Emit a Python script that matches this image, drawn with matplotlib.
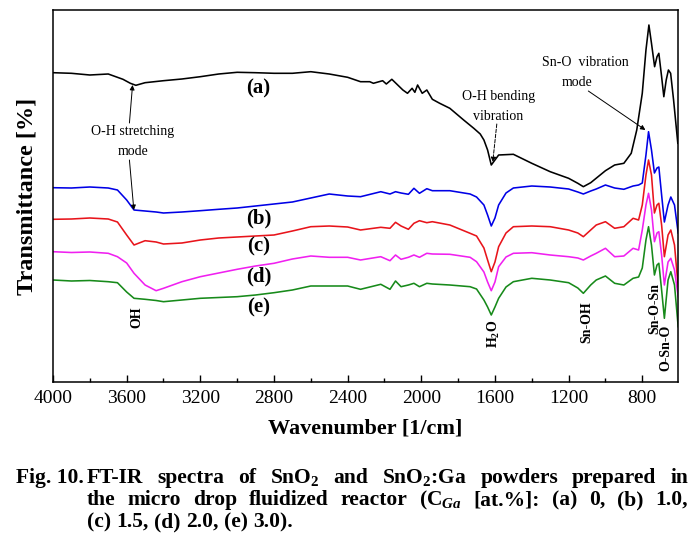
import matplotlib
matplotlib.use("Agg")
import matplotlib.pyplot as plt
from matplotlib.ticker import MultipleLocator

plt.rcParams['font.family'] = ['Liberation Serif', 'DejaVu Serif']
plt.rcParams['mathtext.fontset'] = 'custom'
plt.rcParams['mathtext.rm'] = 'Liberation Serif:bold'
plt.rcParams['mathtext.bf'] = 'Liberation Serif:bold'
plt.rcParams['mathtext.it'] = 'Liberation Serif:bold:italic'

# ---- data (arbitrary transmittance units, stacked spectra) ----
wn_a = [4000, 3900, 3800, 3700, 3620, 3580, 3550, 3500, 3400, 3300, 3200, 3100, 3000,
        2900, 2800, 2700, 2600, 2500, 2400, 2330, 2280, 2260, 2210, 2190, 2160, 2100,
        2075, 2050, 2035, 2020, 1995, 1970, 1940, 1900, 1845, 1770, 1715, 1680, 1660,
        1640, 1620, 1600, 1580, 1500, 1400, 1300, 1200, 1150, 1120, 1080, 1000, 950,
        900, 860, 830, 800, 780, 764, 750, 733, 720, 710, 695, 683, 670, 658, 646, 630, 607]
t_a = [327.3, 326.7, 325, 326, 320.7, 316.7, 314.7, 317.3, 319.3, 321, 323.3, 326, 327.7,
       327.3, 326.7, 326.7, 328.3, 326, 322.7, 318.3, 318.3, 316.7, 319.3, 316, 320.7, 310,
       306.7, 311.7, 307.7, 315, 306.7, 310, 300.7, 296.7, 291.7, 280, 271.7, 266, 260,
       250, 235, 240, 245, 245.7, 236.7, 228.3, 221.7, 216.7, 213.3, 217.3, 229.3, 235,
       236.7, 246.7, 270, 306.7, 350, 375, 356.7, 333.3, 343.3, 346.7, 323.3, 303.3, 320,
       330, 326.7, 300, 256.7]

wn = [4000, 3900, 3800, 3700, 3650, 3600, 3560, 3500, 3440, 3400, 3300, 3200, 3100, 3000,
      2900, 2800, 2700, 2600, 2500, 2400, 2330, 2220, 2170, 2140, 2110, 2070, 2040, 2010,
      1970, 1940, 1845, 1735, 1700, 1660, 1640, 1620, 1600, 1580, 1540, 1500, 1400, 1300,
      1200, 1150, 1120, 1080, 1050, 1000, 950, 900, 850, 820, 800, 780, 766, 750, 734,
      720, 710, 695, 680, 660, 645, 625, 605]
t_b = [212.3, 212, 213, 212, 210, 200, 190, 189, 188, 187, 188, 189.3, 190.7, 192, 194,
       196, 198, 202,
       206, 204, 203.3, 208.3, 206, 208.3, 207, 205.7, 211.7, 206.7, 211.3, 209.3, 209.3,
       206, 203,
       195, 185, 174, 182, 195, 207, 212, 214, 213, 211, 208, 206, 209, 211, 215, 212,
       210.7, 214, 215, 217, 245, 268.3, 250, 227, 232, 233, 205, 178, 195, 203, 195, 167]
t_c = [180.7, 181, 182, 181, 178, 165, 155, 159.3, 158, 156, 157, 160, 162, 163, 164, 165,
       169, 173.3,
       174, 173, 170, 172.7, 171.7, 177.7, 174, 170.7, 176.7, 179.3, 177.3, 178.3, 175,
       166.7, 164,
       152, 140, 128.3, 138, 153.3, 167, 173.3, 174, 173.3, 170, 167, 163.3, 170, 175,
       178.3, 171.7, 173.3, 181.7, 180, 195, 225, 240, 225, 187, 195, 196.7, 175, 143.3,
       165, 170, 155, 113.3]
t_d = [148.3, 147.5, 148, 146.7, 143.3, 137, 126.7, 115, 109.3, 111.7, 118.3, 123.3, 127,
       130.7, 134, 136.7, 141, 144,
       142.7, 142.7, 140, 143.3, 139.3, 145, 140.7, 142.7, 145, 142.7, 146.7, 146, 145.7,
       142.7, 138.3,
       128, 118, 109.3, 118, 133.3, 143, 146.7, 147.3, 145, 143.3, 142, 140, 144, 146.7,
       151.7, 143.3, 144, 151.7, 150, 170, 195, 206.7, 190, 158.3, 167, 168.3, 145, 115,
       138, 141.7, 130, 103.3]
t_e = [120, 119, 119.5, 118.3, 117.3, 108, 101.7, 100.7, 99.5, 98.3, 100, 101.7, 102.5,
       103.3, 105, 107.3, 110, 114,
       114, 114, 110.7, 115.7, 110.7, 119, 113.3, 115, 116.7, 113.3, 116.7, 116, 115,
       113.3, 111,
       100, 93, 85, 93, 101.7, 113, 118.3, 121.7, 120, 117.3, 112, 106.7, 115, 120, 124,
       116.7, 115, 121.7, 123, 132, 160, 173.3, 155, 125, 135, 136.7, 110, 81.7, 120,
       128.3, 115, 73.3]

labels = ['(a)', '(b)', '(c)', '(d)', '(e)']
colors = ['#000000', '#0000e6', '#e8141b', '#f020f0', '#178a1a']
x_ticks = [4000, 3600, 3200, 2800, 2400, 2000, 1600, 1200, 800]

W, H = 698, 547
fig = plt.figure(figsize=(W / 100, H / 100), dpi=100)
ax = fig.add_axes([53 / W, 1 - 382 / H, 625 / W, 372 / H])

series = [(wn_a, t_a), (wn, t_b), (wn, t_c), (wn, t_d), (wn, t_e)]
for (x, y), c in zip(series, colors):
    ax.plot(x, y, color=c, lw=1.15)

ax.set_xlim(4000, 606)
ax.set_ylim(18, 390)
ax.set_xticks(x_ticks)
ax.xaxis.set_minor_locator(MultipleLocator(200))
ax.set_yticks([])
ax.tick_params(axis='x', which='major', direction='in', length=5, width=1,
               labelsize=14, pad=6)
ax.tick_params(axis='x', which='minor', direction='in', length=3, width=1)
for s in ax.spines.values():
    s.set_linewidth(1.1)

ax.set_xlabel('Wavenumber [1/cm]', fontsize=16, fontweight='bold', labelpad=8)
ax.set_ylabel('Transmittance [%]', fontsize=17.5, fontweight='bold', labelpad=11)

# curve labels
lab_y = [312, 182, 154, 124, 93]
for lab, yy in zip(labels, lab_y):
    ax.text(2884, yy, lab, fontsize=15, fontweight='bold', ha='center', va='center')

# annotations
ax.text(3567, 258.5, 'O-H stretching\nmode', fontsize=10, ha='center', va='center',
        linespacing=1.7)
ax.annotate('', xy=(3568, 315), xytext=(3585, 277),
            arrowprops=dict(arrowstyle='-|>', color='black', lw=0.7,
                            mutation_scale=7, shrinkA=0, shrinkB=0))
ax.annotate('', xy=(3561, 190), xytext=(3585, 240),
            arrowprops=dict(arrowstyle='-|>', color='black', lw=0.7,
                            mutation_scale=7, shrinkA=0, shrinkB=0))

ax.text(1582, 293.5, 'O-H bending\nvibration', fontsize=10, ha='center', va='center',
        linespacing=1.7)
ax.annotate('', xy=(1612, 238), xytext=(1590, 276),
            arrowprops=dict(arrowstyle='-|>', color='black', lw=0.7, ls='--',
                            mutation_scale=7, shrinkA=0, shrinkB=0))

ax.text(1111, 338, 'Sn-O  vibration', fontsize=10, ha='center', va='center')
ax.text(1155, 317, 'mode', fontsize=10, ha='center', va='center')
ax.annotate('', xy=(783, 270), xytext=(1093, 309),
            arrowprops=dict(arrowstyle='-|>', color='black', lw=0.7,
                            mutation_scale=7, shrinkA=0, shrinkB=0))

rot = [('OH', 3544, 83), ('H$_2$O', 1607, 66), ('Sn-OH', 1103, 78),
       ('Sn-O-Sn', 733, 91), ('O-Sn-O', 673, 52)]
for t, xx, yy in rot:
    ax.text(xx, yy, t, rotation=90, fontsize=10, fontweight='bold',
            ha='center', va='center')

# caption (justified lines)
renderer = fig.canvas.get_renderer()
cap_fs = 15.5

def place_line(words, x0, x1, ybase, justify=True):
    texts = [fig.text(0, 1 - ybase / H, w, fontsize=cap_fs, fontweight='bold',
                      ha='left', va='baseline') for w in words]
    widths = [t.get_window_extent(renderer).width for t in texts]
    if justify and len(words) > 1:
        gap = (x1 - x0 - sum(widths)) / (len(words) - 1)
    else:
        sp = fig.text(0, 0, 'a a', fontsize=cap_fs, fontweight='bold')
        sp2 = fig.text(0, 0, 'aa', fontsize=cap_fs, fontweight='bold')
        gap = sp.get_window_extent(renderer).width - sp2.get_window_extent(renderer).width
        sp.remove(); sp2.remove()
    x = x0
    for t, w in zip(texts, widths):
        t.set_x(x / W)
        x += w + gap

fig.text(16 / W, 1 - 483 / H, 'Fig. 10.', fontsize=cap_fs, fontweight='bold',
         ha='left', va='baseline')
place_line(['FT-IR', 'spectra', 'of', 'SnO$_2$', 'and', 'SnO$_2$:Ga', 'powders',
            'prepared', 'in'], 87, 688, 483)
place_line(['the', 'micro', 'drop', 'fluidized', 'reactor', '(C$_{\\mathit{Ga}}$',
            '[at.%]:', '(a)', '0,', '(b)', '1.0,'], 87, 688, 505)
place_line(['(c)', '1.5,', '(d)', '2.0,', '(e)', '3.0).'], 87, 688, 527, justify=False)

fig.savefig('out.png', dpi=100)
